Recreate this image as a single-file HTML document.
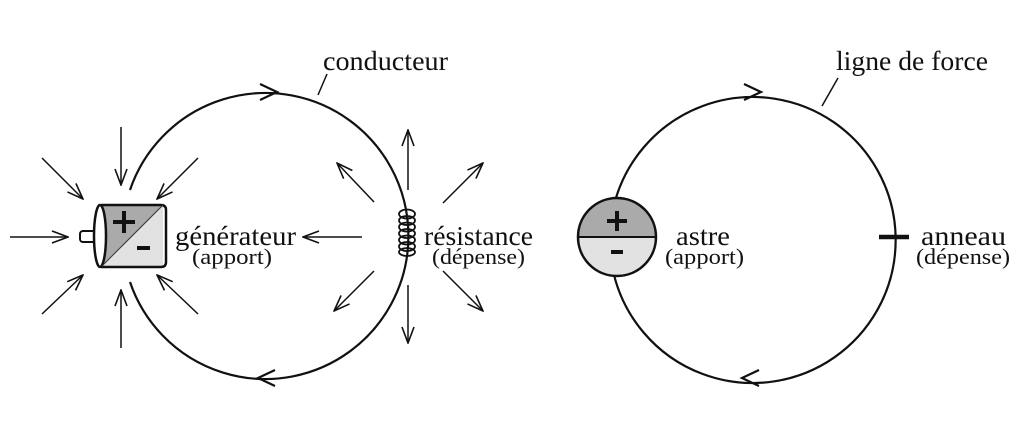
<!DOCTYPE html>
<html><head><meta charset="utf-8"><style>
html,body{margin:0;padding:0;background:#fff;}
svg{display:block}
text{font-family:"Liberation Serif",serif;fill:#111}
</style></head><body>
<svg width="1024" height="448" viewBox="0 0 1024 448" xmlns="http://www.w3.org/2000/svg">
<defs>
<marker id="a" viewBox="0 0 18 14" refX="17" refY="7" markerWidth="18" markerHeight="14" markerUnits="userSpaceOnUse" orient="auto">
<path d="M1,1 L17,7 L1,13" fill="none" stroke="#111" stroke-width="1.6"/>
</marker>
</defs>
<g stroke="#111" stroke-width="2.2" fill="none">
<path d="M130,190 A143,143 0 1 1 130,282"/>
<path d="M614,205 A143,143 0 1 1 614,275"/>
<path d="M260,84 L277,92 L260,100"/>
<path d="M275,370 L258,378 L275,386"/>
<path d="M744,84 L761,92 L744,100"/>
<path d="M759,370 L742,378 L759,386"/>
<path d="M318,95 L327,74" stroke-width="1.5"/>
<path d="M822,106 L838,78" stroke-width="1.5"/>
</g>
<g stroke="#111" stroke-width="1.5" fill="none" marker-end="url(#a)">
<path d="M10,237 L68,237"/>
<path d="M121,127 L121,185"/>
<path d="M42,158 L83,199"/>
<path d="M198,158 L157,199"/>
<path d="M42,314 L83,275"/>
<path d="M198,314 L157,275"/>
<path d="M121,348 L121,290"/>
<path d="M362,237 L303,237"/>
<path d="M408,190 L408,130"/>
<path d="M408,285 L408,343"/>
<path d="M374,202 L337,163"/>
<path d="M443,203 L483,163"/>
<path d="M374,271 L334,311"/>
<path d="M443,271 L483,311"/>
</g>
<rect x="80" y="231" width="18" height="11" rx="3" fill="#fff" stroke="#111" stroke-width="2"/>
<path d="M101,205 L163,205 L102,266 Z" fill="#aaa"/>
<path d="M163,205 L163,266 L102,266 Z" fill="#e2e2e2"/>
<path d="M101,205 L161,205 Q166,205 166,210 L166,262 Q166,267 161,267 L101,267" fill="none" stroke="#111" stroke-width="2.5"/>
<ellipse cx="100" cy="236" rx="6" ry="31" fill="#fff" stroke="#111" stroke-width="2.5"/>
<line x1="163" y1="205" x2="102" y2="266" stroke="#333" stroke-width="1"/>
<path d="M124,211 L124,233 M113,222 L135,222" stroke="#111" stroke-width="4"/>
<path d="M137,248 L150,248" stroke="#111" stroke-width="4"/>
<g stroke="#111" stroke-width="1.8" fill="none">
<ellipse cx="407" cy="214" rx="8" ry="4.5"/>
<ellipse cx="407" cy="220.5" rx="8" ry="4.5"/>
<ellipse cx="407" cy="227" rx="8" ry="4.5"/>
<ellipse cx="407" cy="233.5" rx="8" ry="4.5"/>
<ellipse cx="407" cy="240" rx="8" ry="4.5"/>
<ellipse cx="407" cy="246.5" rx="8" ry="4.5"/>
<ellipse cx="407" cy="252" rx="8" ry="4"/>
</g>
<path d="M578,237 A39,39 0 0 1 656,237 Z" fill="#aaa"/>
<path d="M578,237 A39,39 0 0 0 656,237 Z" fill="#e2e2e2"/>
<circle cx="617" cy="237" r="39" fill="none" stroke="#111" stroke-width="2.5"/>
<line x1="578" y1="237" x2="656" y2="237" stroke="#111" stroke-width="2"/>
<path d="M617,211 L617,231 M607,221 L627,221" stroke="#111" stroke-width="4"/>
<path d="M611,252 L623,252" stroke="#111" stroke-width="4"/>
<line x1="879" y1="237" x2="909" y2="237" stroke="#111" stroke-width="4.5"/>
<text x="323" y="70" font-size="27" textLength="125" lengthAdjust="spacingAndGlyphs">conducteur</text>
<text x="836" y="70" font-size="27" textLength="152" lengthAdjust="spacingAndGlyphs">ligne de force</text>
<text x="175" y="245" font-size="27" textLength="121" lengthAdjust="spacingAndGlyphs">générateur</text>
<text x="192" y="264" font-size="22" textLength="80" lengthAdjust="spacingAndGlyphs">(apport)</text>
<text x="424" y="245" font-size="27" textLength="109" lengthAdjust="spacingAndGlyphs">résistance</text>
<text x="432" y="264" font-size="22" textLength="93" lengthAdjust="spacingAndGlyphs">(dépense)</text>
<text x="676" y="245" font-size="27" textLength="54" lengthAdjust="spacingAndGlyphs">astre</text>
<text x="665" y="264" font-size="22" textLength="79" lengthAdjust="spacingAndGlyphs">(apport)</text>
<text x="921" y="245" font-size="27" textLength="85" lengthAdjust="spacingAndGlyphs">anneau</text>
<text x="916" y="264" font-size="22" textLength="94" lengthAdjust="spacingAndGlyphs">(dépense)</text>
</svg>
</body></html>
